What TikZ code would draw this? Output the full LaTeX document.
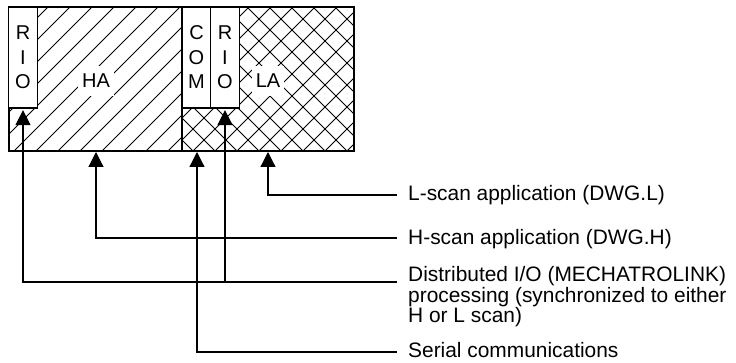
\documentclass[tikz,border=0pt]{standalone}
\usepackage{fontspec}
\setmainfont{Liberation Sans}
\usetikzlibrary{arrows.meta}
\tikzset{
  every node/.style={font=\fontsize{20}{24.5}\selectfont},
  hatchline/.style={line width=0.9pt},
  hatchNE/.style={path picture={
    \foreach \k in {-10,...,16}{
      \draw[hatchline] ([xshift=\k*22pt+5pt]path picture bounding box.south west) -- ++(170pt,170pt);}}},
  hatchX/.style={path picture={
    \foreach \k in {-10,...,18}{
      \draw[hatchline] ([xshift=\k*22pt+11pt]path picture bounding box.south west) -- ++(170pt,170pt);
      \draw[hatchline] ([xshift=\k*22pt+11pt]path picture bounding box.south west) -- ++(-170pt,170pt);}}},
  region/.style={draw, line width=1.2pt, inner sep=0pt, minimum height=144pt},
  slot/.style={draw, line width=1.2pt, fill=white, inner sep=0pt, minimum width=28.5pt, minimum height=101pt, align=center},
  tag/.style={fill=white, inner xsep=4pt, inner ysep=8pt},
  desc/.style={anchor=base west, inner sep=0pt, align=left, font=\fontsize{20.9}{20.5}\selectfont},
  conn/.style={line width=1.2pt},
  arr/.style={conn, -{Triangle[length=15pt,width=15pt]}}
}
\begin{document}
\begin{tikzpicture}[x=1pt,y=-1pt]
\useasboundingbox (0,0) rectangle (736,363);
% regions
\node[region, hatchNE, minimum width=173pt] (hreg) at (95.5,79) {};
\node[region, hatchX, minimum width=172pt] (lreg) at (268,79) {};
% slots
\node[slot] (rio1) at (23,57.5) {R\\I\\O};
\node[slot] (com) at (196.5,57.5) {C\\O\\M};
\node[slot] (rio2) at (225,57.5) {R\\I\\O};
% labels
\node[tag] (ha) at (96,81) {HA};
\node[tag] (la) at (268,81) {LA};
% descriptions
\node[desc] (tl) at (408,201) {L-scan application (DWG.L)};
\node[desc] (th) at (408,245) {H-scan application (DWG.H)};
\node[desc] (td) at (408,323) {Distributed I/O (MECHATROLINK)\\processing (synchronized to either\\H or L scan)};
\node[desc] (ts) at (408,357) {Serial communications};
% connector ends
\coordinate (eL) at (397,195);
\coordinate (eH) at (397,238);
\coordinate (eD) at (397,282);
\coordinate (eS) at (397,352);
% arrow targets
\coordinate (aL) at (268,152);
\coordinate (aH) at (96,152);
\coordinate (aS) at (197,152);
\coordinate (aD1) at ([yshift=-1.5pt]rio1.south);
\coordinate (aD2) at ([yshift=-1.5pt]rio2.south);
% connectors
\draw[arr] (eL) -| (aL);
\draw[arr] (eH) -| (aH);
\draw[arr] (eD) -| (aD1);
\draw[arr] (eD -| aD2) -- (aD2);
\draw[arr] (eS) -| (aS);
\end{tikzpicture}
\end{document}
